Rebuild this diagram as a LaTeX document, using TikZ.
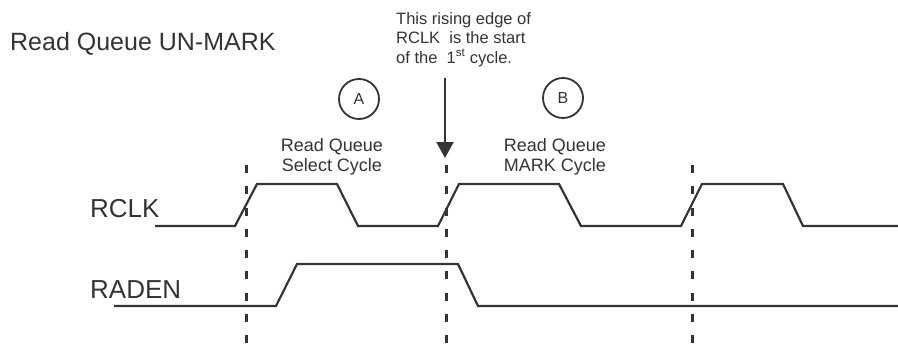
\documentclass[tikz,border=0pt]{standalone}
\usepackage{fontspec}
\setmainfont{Liberation Sans}
\usepackage{tikz}
\usetikzlibrary{positioning,arrows.meta}
\definecolor{ink}{RGB}{52,52,50}

\begin{document}
\begin{tikzpicture}[x=1pt,y=-1pt,color=ink,
  wave/.style={line width=2.2pt,line join=miter},
  edgemark/.style={line width=3pt,dash pattern=on 8pt off 13.25pt},
  cyc/.style={circle,draw,line width=1.8pt,minimum size=40pt,inner sep=0pt,font=\fontsize{16}{16}\selectfont},
  sig/.style={anchor=base west,inner sep=0pt,font=\fontsize{26}{26}\selectfont},
  cyclabel/.style={anchor=north,inner sep=0pt,align=center,font=\fontsize{18}{20}\selectfont}]
\useasboundingbox[fill=white] (0,0) rectangle (898,348);

% title
\node[anchor=base west,inner sep=0pt,font=\fontsize{25}{25}\selectfont] (title) at (10,50) {Read Queue UN-MARK};

% note and arrow
\node[anchor=north west,inner sep=0pt,align=left,font=\fontsize{16.5}{19.5}\selectfont] (note) at (396,12)
  {This rising edge of\\RCLK~ is the start\\of the~ 1\textsuperscript{st} cycle.};
\coordinate (arrtop) at (445,78);
\coordinate (arrtip) at (445,158);
\draw[line width=2.2pt,-{Triangle[length=16pt,width=17pt]}] (arrtop) -- (arrtip);

% cycle markers
\node[cyc] (cycA) at (359,99) {A};
\node[cyc] (cycB) at (563,98) {B};
\node[cyclabel] (labA) at (332,138) {Read Queue\\Select Cycle};
\node[cyclabel] (labB) at (555,138) {Read Queue\\MARK Cycle};

% signal names
\node[sig] (rclk) at (90,217) {RCLK};
\node[sig] (raden) at (90,298) {RADEN};

% dashed edges
\draw[edgemark] (246,165) -- (246,343);
\draw[edgemark] (446,165) -- (446,343);
\draw[edgemark] (692,165) -- (692,343);

% waveforms
\draw[wave] (155,226) -- (235,226) -- (257,184) -- (337,184) -- (358,226) -- (438,226) -- (459,184) -- (559,184)
  -- (581,226) -- (681,226) -- (702,184) -- (783,184) -- (803,226) -- (898,226);
\draw[wave] (114,306) -- (276,306) -- (297,264) -- (458,264) -- (478,306) -- (898,306);
\end{tikzpicture}
\end{document}
